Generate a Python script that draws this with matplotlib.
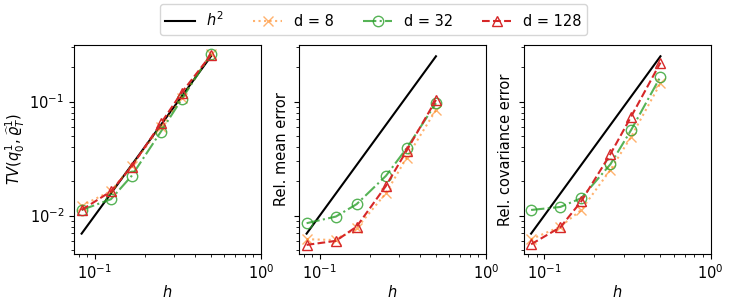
import numpy as np
import matplotlib
matplotlib.use("Agg")
import matplotlib.pyplot as plt

plt.rcParams["font.size"] = 10.5

h = np.array([1/12, 1/8, 1/6, 1/4, 1/3, 1/2])

tv_d8 = [0.0122, 0.0164, 0.0273, 0.060, 0.107, 0.262]
tv_d32 = [0.0112, 0.0139, 0.0223, 0.0546, 0.105, 0.262]
tv_d128 = [0.0112, 0.0163, 0.0269, 0.0646, 0.120, 0.257]

mean_d8 = [0.0062, 0.0061, 0.00775, 0.0157, 0.0323, 0.0845]
mean_d32 = [0.00857, 0.0098, 0.0126, 0.0223, 0.039, 0.0968]
mean_d128 = [0.00553, 0.0060, 0.0080, 0.0182, 0.0372, 0.1035]

cov_d8 = [0.0062, 0.0080, 0.0112, 0.0252, 0.0493, 0.145]
cov_d32 = [0.0112, 0.0119, 0.0142, 0.0282, 0.0565, 0.1656]
cov_d128 = [0.0056, 0.0079, 0.0133, 0.0347, 0.074, 0.22]

ylabels = [r"$TV(q_0^1, \widehat{\varrho}_T^1)$", "Rel. mean error", "Rel. covariance error"]
panels = [(tv_d8, tv_d32, tv_d128), (mean_d8, mean_d32, mean_d128), (cov_d8, cov_d32, cov_d128)]

styles = [
    dict(color="#ff7f0e", alpha=0.6, ls=":", marker="x", label="d = 8"),
    dict(color="#2ca02c", alpha=0.8, ls="-.", marker="o", mfc="none", label="d = 32"),
    dict(color="#d62728", ls="--", marker="^", mfc="none", label="d = 128"),
]

fig = plt.figure(figsize=(7.47, 2.99), dpi=100)
lefts = [74, 299, 523.5]
W, H = 747, 299
axes = []
for i, l in enumerate(lefts):
    ax = fig.add_axes([l / W, (H - 254) / H, 187 / W, (254 - 45) / H],
                      sharey=axes[0] if axes else None)
    axes.append(ax)

for i, ax in enumerate(axes):
    ax.plot(h, h**2, color="black", lw=1.5, label=r"$h^2$")
    for data, st in zip(panels[i], styles):
        ax.plot(h, data, lw=1.5, ms=7.5, **st)
    ax.set_xscale("log")
    ax.set_yscale("log")
    ax.set_xlim(0.075, 1.0)
    ax.set_ylim(0.0046, 0.314)
    ax.set_xlabel("$h$", labelpad=1)
    ax.set_ylabel(ylabels[i], labelpad=2)
    if i > 0:
        ax.tick_params(labelleft=False)

handles, labels = axes[0].get_legend_handles_labels()
fig.legend(handles, labels, loc="upper center", ncol=4, bbox_to_anchor=(0.5, 1.0),
           columnspacing=2.0, handlelength=2.0, borderaxespad=0.3)
fig.savefig("out.png", dpi=100)
